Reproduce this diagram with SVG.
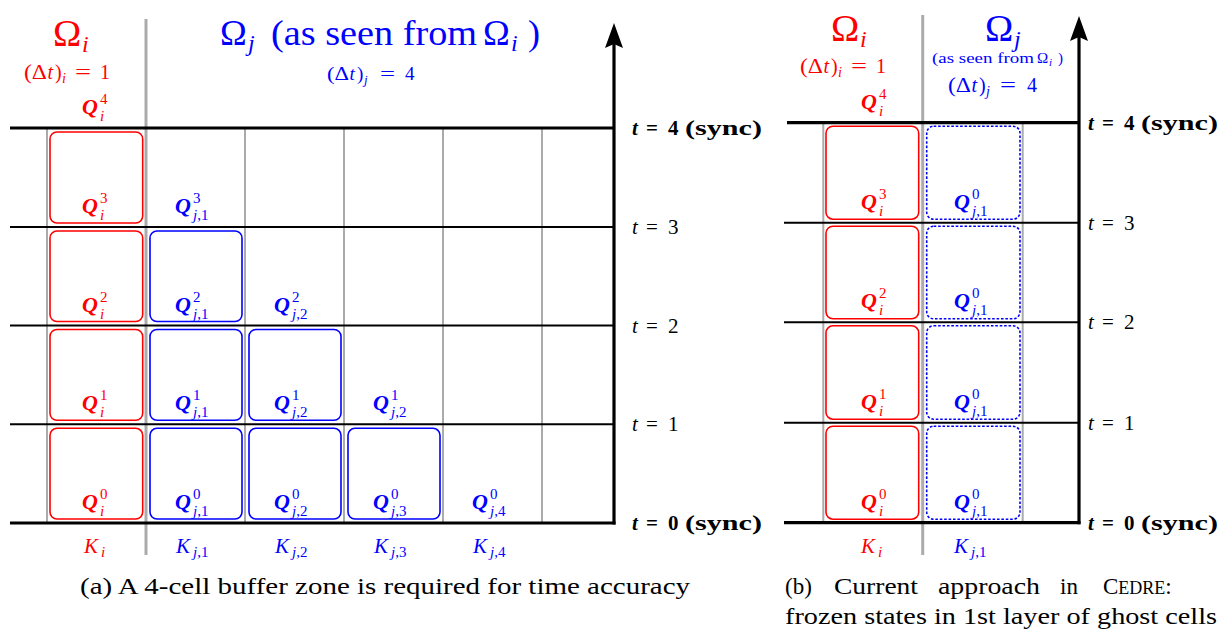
<svg xmlns="http://www.w3.org/2000/svg" width="1221" height="630" viewBox="0 0 1221 630">
<defs>
<style>
text{font-family:"Liberation Serif","Times New Roman",Times,"DejaVu Serif",serif}
.red{fill:#ff0000}
.blue{fill:#0000ff}
.blk{fill:#000}
.Q{font-weight:bold;font-style:italic;font-size:22px}
.sp{font-size:15px;font-style:normal;font-weight:normal}
.sb{font-size:15px;font-style:italic;font-weight:normal}
.up{font-style:normal}
.K{font-style:italic;font-size:21px}
.tl{font-size:21px}
.it{font-style:italic}
.bf{font-weight:bold}
.gthin{stroke:#ababab;stroke-width:2;fill:none}
.gthick{stroke:#ababab;stroke-width:3;fill:none}
.bthick{stroke:#000;stroke-width:3.2;fill:none}
.bthin{stroke:#000;stroke-width:2;fill:none}
.axis{stroke:#000;stroke-width:3.2;fill:none;marker-end:url(#arr)}
.rbox{fill:none;stroke:#ff0000;stroke-width:1.6}
.bbox{fill:none;stroke:#0000ff;stroke-width:1.6}
.dbox{fill:none;stroke:#0000ff;stroke-width:1.6;stroke-dasharray:2.6 1.8}
</style>
<marker id="arr" markerUnits="userSpaceOnUse" viewBox="0 0 25 18" refX="8" refY="9" markerWidth="25" markerHeight="18" orient="auto">
<path d="M0,0 L25,9 L0,18 L4,9 Z" fill="#000"/>
</marker>
</defs>

<!-- ============ Panel (a) ============ -->
<g id="a-grid">
<line class="gthin" x1="47" y1="128" x2="47" y2="523"/>
<line class="gthin" x1="245" y1="128" x2="245" y2="523"/>
<line class="gthin" x1="344" y1="128" x2="344" y2="523"/>
<line class="gthin" x1="443" y1="128" x2="443" y2="523"/>
<line class="gthin" x1="542" y1="128" x2="542" y2="523"/>
<line class="gthick" x1="146" y1="19" x2="146" y2="555"/>
<line class="bthick" x1="10" y1="128" x2="614" y2="128"/>
<line class="bthin" x1="10" y1="227" x2="614" y2="227"/>
<line class="bthin" x1="10" y1="325.5" x2="614" y2="325.5"/>
<line class="bthin" x1="10" y1="424.3" x2="614" y2="424.3"/>
<line class="bthick" x1="10" y1="523" x2="615.5" y2="523"/>
</g>
<g id="a-connectors">
<line class="axis" x1="614" y1="524.6" x2="614" y2="40"/>
</g>

<g id="a-header">
<text class="red" font-size="38"><tspan x="53" y="46">Ω</tspan><tspan class="it" font-size="24" x="82" y="52">i</tspan></text>
<text class="red" font-size="20"><tspan x="24" y="79" textLength="23" lengthAdjust="spacingAndGlyphs">(Δ</tspan><tspan class="it" x="47.5" y="79">t</tspan><tspan x="55" y="79">)</tspan><tspan class="it" font-size="14" x="62" y="83">i</tspan><tspan x="75" y="79" textLength="16" lengthAdjust="spacingAndGlyphs">=</tspan><tspan x="100" y="79">1</tspan></text>
<text class="blue" font-size="36"><tspan x="220" y="45">Ω</tspan><tspan class="it" font-size="24" x="248" y="51">j</tspan><tspan x="271" y="45" textLength="206" lengthAdjust="spacingAndGlyphs">(as seen from</tspan><tspan x="483" y="45">Ω</tspan><tspan class="it" font-size="24" x="511" y="51">i</tspan><tspan x="528" y="45">)</tspan></text>
<text class="blue" font-size="19"><tspan x="327" y="80" textLength="22" lengthAdjust="spacingAndGlyphs">(Δ</tspan><tspan class="it" x="349.5" y="80">t</tspan><tspan x="357" y="80">)</tspan><tspan class="it" font-size="13" x="364" y="84">j</tspan><tspan x="380" y="80" textLength="15" lengthAdjust="spacingAndGlyphs">=</tspan><tspan x="405" y="80">4</tspan></text>
</g>

<g id="a-col-i">
<rect class="rbox" x="50" y="132" width="92.7" height="91" rx="7"/>
<rect class="rbox" x="50" y="231" width="92.7" height="90.5" rx="7"/>
<rect class="rbox" x="50" y="329.5" width="92.7" height="90.8" rx="7"/>
<rect class="rbox" x="50" y="428.3" width="92.7" height="90.7" rx="7"/>
<text class="red Q"><tspan x="82" y="114">Q</tspan><tspan class="sp" x="100" y="104">4</tspan><tspan class="sb" x="100" y="121">i</tspan></text>
<text class="red Q"><tspan x="82" y="213">Q</tspan><tspan class="sp" x="100" y="203">3</tspan><tspan class="sb" x="100" y="220">i</tspan></text>
<text class="red Q"><tspan x="82" y="311.5">Q</tspan><tspan class="sp" x="100" y="301.5">2</tspan><tspan class="sb" x="100" y="318.5">i</tspan></text>
<text class="red Q"><tspan x="82" y="410.3">Q</tspan><tspan class="sp" x="100" y="400.3">1</tspan><tspan class="sb" x="100" y="417.3">i</tspan></text>
<text class="red Q"><tspan x="82" y="509">Q</tspan><tspan class="sp" x="100" y="499">0</tspan><tspan class="sb" x="100" y="516">i</tspan></text>
<text class="red K"><tspan x="84" y="553">K</tspan><tspan font-size="15" x="101" y="557">i</tspan></text>
</g>

<g id="a-col-j1">
<rect class="bbox" x="150" y="231" width="92" height="90.5" rx="7"/>
<rect class="bbox" x="150" y="329.5" width="92" height="90.8" rx="7"/>
<rect class="bbox" x="150" y="428.3" width="92" height="90.7" rx="7"/>
<text class="blue Q"><tspan x="175" y="213">Q</tspan><tspan class="sp" x="193" y="203">3</tspan><tspan class="sb" x="193" y="220">j<tspan class="up">,1</tspan></tspan></text>
<text class="blue Q"><tspan x="175" y="311.5">Q</tspan><tspan class="sp" x="193" y="301.5">2</tspan><tspan class="sb" x="193" y="318.5">j<tspan class="up">,1</tspan></tspan></text>
<text class="blue Q"><tspan x="175" y="410.3">Q</tspan><tspan class="sp" x="193" y="400.3">1</tspan><tspan class="sb" x="193" y="417.3">j<tspan class="up">,1</tspan></tspan></text>
<text class="blue Q"><tspan x="175" y="509">Q</tspan><tspan class="sp" x="193" y="499">0</tspan><tspan class="sb" x="193" y="516">j<tspan class="up">,1</tspan></tspan></text>
<text class="blue K"><tspan x="176" y="553">K</tspan><tspan font-size="15" x="193" y="557">j<tspan class="up">,1</tspan></tspan></text>
</g>

<g id="a-col-j2">
<rect class="bbox" x="249" y="329.5" width="92" height="90.8" rx="7"/>
<rect class="bbox" x="249" y="428.3" width="92" height="90.7" rx="7"/>
<text class="blue Q"><tspan x="274" y="311.5">Q</tspan><tspan class="sp" x="292" y="301.5">2</tspan><tspan class="sb" x="292" y="318.5">j<tspan class="up">,2</tspan></tspan></text>
<text class="blue Q"><tspan x="274" y="410.3">Q</tspan><tspan class="sp" x="292" y="400.3">1</tspan><tspan class="sb" x="292" y="417.3">j<tspan class="up">,2</tspan></tspan></text>
<text class="blue Q"><tspan x="274" y="509">Q</tspan><tspan class="sp" x="292" y="499">0</tspan><tspan class="sb" x="292" y="516">j<tspan class="up">,2</tspan></tspan></text>
<text class="blue K"><tspan x="275" y="553">K</tspan><tspan font-size="15" x="292" y="557">j<tspan class="up">,2</tspan></tspan></text>
</g>

<g id="a-col-j3">
<rect class="bbox" x="348" y="428.3" width="92" height="90.7" rx="7"/>
<text class="blue Q"><tspan x="373" y="410.3">Q</tspan><tspan class="sp" x="391" y="400.3">1</tspan><tspan class="sb" x="391" y="417.3">j<tspan class="up">,2</tspan></tspan></text>
<text class="blue Q"><tspan x="373" y="509">Q</tspan><tspan class="sp" x="391" y="499">0</tspan><tspan class="sb" x="391" y="516">j<tspan class="up">,3</tspan></tspan></text>
<text class="blue K"><tspan x="374" y="553">K</tspan><tspan font-size="15" x="391" y="557">j<tspan class="up">,3</tspan></tspan></text>
</g>

<g id="a-col-j4">
<text class="blue Q"><tspan x="472" y="509">Q</tspan><tspan class="sp" x="490" y="499">0</tspan><tspan class="sb" x="490" y="516">j<tspan class="up">,4</tspan></tspan></text>
<text class="blue K"><tspan x="473" y="553">K</tspan><tspan font-size="15" x="490" y="557">j<tspan class="up">,4</tspan></tspan></text>
</g>

<g id="a-time-labels" class="blk">
<text class="tl bf"><tspan class="it" x="632" y="135">t</tspan><tspan x="646" y="135">=</tspan><tspan x="668" y="135">4</tspan><tspan x="685" y="135" textLength="77" lengthAdjust="spacingAndGlyphs">(sync)</tspan></text>
<text class="tl"><tspan class="it" x="632" y="234">t</tspan><tspan x="646" y="234">=</tspan><tspan x="668" y="234">3</tspan></text>
<text class="tl"><tspan class="it" x="632" y="332.5">t</tspan><tspan x="646" y="332.5">=</tspan><tspan x="668" y="332.5">2</tspan></text>
<text class="tl"><tspan class="it" x="632" y="431.3">t</tspan><tspan x="646" y="431.3">=</tspan><tspan x="668" y="431.3">1</tspan></text>
<text class="tl bf"><tspan class="it" x="632" y="530">t</tspan><tspan x="646" y="530">=</tspan><tspan x="668" y="530">0</tspan><tspan x="685" y="530" textLength="77" lengthAdjust="spacingAndGlyphs">(sync)</tspan></text>
</g>

<g id="a-caption">
<text class="blk" x="80" y="594" font-size="23" textLength="610" lengthAdjust="spacingAndGlyphs">(a) A 4-cell buffer zone is required for time accuracy</text>
</g>

<!-- ============ Panel (b) ============ -->
<g id="b-grid">
<line class="gthin" x1="823.3" y1="122.7" x2="823.3" y2="522.7"/>
<line class="gthin" x1="1022.7" y1="122.7" x2="1022.7" y2="522.7"/>
<line class="gthick" x1="922.7" y1="15" x2="922.7" y2="555"/>
<line class="bthick" x1="787" y1="122.7" x2="1079" y2="122.7"/>
<line class="bthin" x1="784" y1="222.7" x2="1079" y2="222.7"/>
<line class="bthin" x1="784" y1="322.3" x2="1079" y2="322.3"/>
<line class="bthin" x1="784" y1="422.7" x2="1079" y2="422.7"/>
<line class="bthick" x1="784" y1="522.7" x2="1080.5" y2="522.7"/>
</g>
<g id="b-connectors">
<line class="axis" x1="1079" y1="524.3" x2="1079" y2="33"/>
</g>

<g id="b-header">
<text class="red" font-size="38"><tspan x="831" y="41">Ω</tspan><tspan class="it" font-size="24" x="860" y="47">i</tspan></text>
<text class="red" font-size="20"><tspan x="800" y="73" textLength="23" lengthAdjust="spacingAndGlyphs">(Δ</tspan><tspan class="it" x="823.5" y="73">t</tspan><tspan x="831" y="73">)</tspan><tspan class="it" font-size="14" x="838" y="77">i</tspan><tspan x="851" y="73" textLength="16" lengthAdjust="spacingAndGlyphs">=</tspan><tspan x="876" y="73">1</tspan></text>
<text class="blue" font-size="38"><tspan x="985" y="41">Ω</tspan><tspan class="it" font-size="24" x="1014" y="47">j</tspan></text>
<text class="blue" font-size="15"><tspan x="932" y="63" textLength="102" lengthAdjust="spacingAndGlyphs">(as seen from</tspan><tspan x="1037" y="63">Ω</tspan><tspan class="it" font-size="11" x="1049" y="66">i</tspan><tspan x="1058" y="63">)</tspan></text>
<text class="blue" font-size="20"><tspan x="948" y="92" textLength="23" lengthAdjust="spacingAndGlyphs">(Δ</tspan><tspan class="it" x="971.5" y="92">t</tspan><tspan x="979" y="92">)</tspan><tspan class="it" font-size="14" x="986" y="96">j</tspan><tspan x="1000" y="92" textLength="16" lengthAdjust="spacingAndGlyphs">=</tspan><tspan x="1027" y="92">4</tspan></text>
</g>

<g id="b-col-i">
<rect class="rbox" x="826" y="126.2" width="92.7" height="93" rx="7"/>
<rect class="rbox" x="826" y="226.2" width="92.7" height="92.6" rx="7"/>
<rect class="rbox" x="826" y="325.8" width="92.7" height="93.4" rx="7"/>
<rect class="rbox" x="826" y="426.2" width="92.7" height="93" rx="7"/>
<text class="red Q"><tspan x="861" y="108.7">Q</tspan><tspan class="sp" x="879" y="98.7">4</tspan><tspan class="sb" x="879" y="115.7">i</tspan></text>
<text class="red Q"><tspan x="861" y="208.7">Q</tspan><tspan class="sp" x="879" y="198.7">3</tspan><tspan class="sb" x="879" y="215.7">i</tspan></text>
<text class="red Q"><tspan x="861" y="308.3">Q</tspan><tspan class="sp" x="879" y="298.3">2</tspan><tspan class="sb" x="879" y="315.3">i</tspan></text>
<text class="red Q"><tspan x="861" y="408.7">Q</tspan><tspan class="sp" x="879" y="398.7">1</tspan><tspan class="sb" x="879" y="415.7">i</tspan></text>
<text class="red Q"><tspan x="861" y="508.7">Q</tspan><tspan class="sp" x="879" y="498.7">0</tspan><tspan class="sb" x="879" y="515.7">i</tspan></text>
<text class="red K"><tspan x="861" y="553">K</tspan><tspan font-size="15" x="878" y="557">i</tspan></text>
</g>

<g id="b-col-j1">
<rect class="dbox" x="926.7" y="126.2" width="93.3" height="93" rx="7"/>
<rect class="dbox" x="926.7" y="226.2" width="93.3" height="92.6" rx="7"/>
<rect class="dbox" x="926.7" y="325.8" width="93.3" height="93.4" rx="7"/>
<rect class="dbox" x="926.7" y="426.2" width="93.3" height="93" rx="7"/>
<text class="blue Q"><tspan x="954" y="208.7">Q</tspan><tspan class="sp" x="972" y="198.7">0</tspan><tspan class="sb" x="972" y="215.7">j<tspan class="up">,1</tspan></tspan></text>
<text class="blue Q"><tspan x="954" y="308.3">Q</tspan><tspan class="sp" x="972" y="298.3">0</tspan><tspan class="sb" x="972" y="315.3">j<tspan class="up">,1</tspan></tspan></text>
<text class="blue Q"><tspan x="954" y="408.7">Q</tspan><tspan class="sp" x="972" y="398.7">0</tspan><tspan class="sb" x="972" y="415.7">j<tspan class="up">,1</tspan></tspan></text>
<text class="blue Q"><tspan x="954" y="508.7">Q</tspan><tspan class="sp" x="972" y="498.7">0</tspan><tspan class="sb" x="972" y="515.7">j<tspan class="up">,1</tspan></tspan></text>
<text class="blue K"><tspan x="954" y="553">K</tspan><tspan font-size="15" x="971" y="557">j<tspan class="up">,1</tspan></tspan></text>
</g>

<g id="b-time-labels" class="blk">
<text class="tl bf"><tspan class="it" x="1088" y="129.7">t</tspan><tspan x="1102" y="129.7">=</tspan><tspan x="1124" y="129.7">4</tspan><tspan x="1141" y="129.7" textLength="77" lengthAdjust="spacingAndGlyphs">(sync)</tspan></text>
<text class="tl"><tspan class="it" x="1088" y="229.7">t</tspan><tspan x="1102" y="229.7">=</tspan><tspan x="1124" y="229.7">3</tspan></text>
<text class="tl"><tspan class="it" x="1088" y="329.3">t</tspan><tspan x="1102" y="329.3">=</tspan><tspan x="1124" y="329.3">2</tspan></text>
<text class="tl"><tspan class="it" x="1088" y="429.7">t</tspan><tspan x="1102" y="429.7">=</tspan><tspan x="1124" y="429.7">1</tspan></text>
<text class="tl bf"><tspan class="it" x="1088" y="529.7">t</tspan><tspan x="1102" y="529.7">=</tspan><tspan x="1124" y="529.7">0</tspan><tspan x="1141" y="529.7" textLength="77" lengthAdjust="spacingAndGlyphs">(sync)</tspan></text>
</g>

<g id="b-caption" class="blk" font-size="23">
<text x="785" y="594">(b)</text>
<text x="834" y="594" textLength="84" lengthAdjust="spacingAndGlyphs">Current</text>
<text x="938" y="594" textLength="102" lengthAdjust="spacingAndGlyphs">approach</text>
<text x="1060" y="594">in</text>
<text x="1103" y="594">C<tspan font-size="18">EDRE</tspan>:</text>
<text x="785" y="624" textLength="432" lengthAdjust="spacingAndGlyphs">frozen states in 1st layer of ghost cells</text>
</g>
</svg>
